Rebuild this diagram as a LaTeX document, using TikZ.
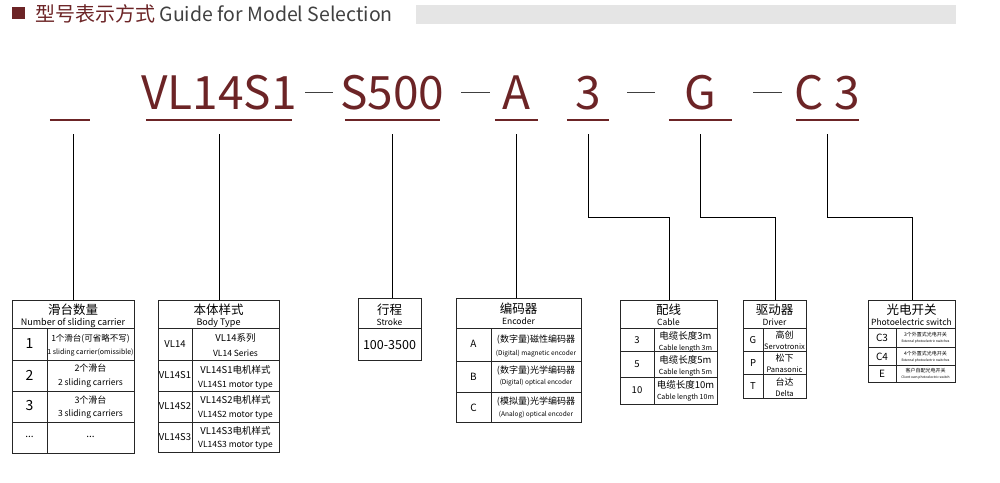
\documentclass[tikz,border=0pt]{standalone}
\usepackage{fontspec}
\setmainfont{Noto Sans CJK SC}
\usepackage{xcolor}
\usepackage{tikz}
\usetikzlibrary{positioning}

\definecolor{codered}{RGB}{108,36,38}
\definecolor{titlegray}{RGB}{64,64,64}
\definecolor{barfill}{RGB}{229,229,229}
\newcommand{\fsz}[2]{\fontsize{#1}{#2}\selectfont}

\begin{document}
\begin{tikzpicture}[
  x=1pt, y=-1pt,
  code/.style={font=\fsz{46}{46}, text=codered, inner sep=0pt, text depth=0pt},
  ubase/.style={inner sep=0pt, minimum height=0pt, minimum width=#1},
  uline/.style={draw=codered, line width=1.3pt},
  dashln/.style={draw=black!75, line width=0.9pt},
  link/.style={draw=black, line width=0.8pt},
  tabbox/.style={draw=black!85, line width=0.8pt, anchor=north west, inner sep=0pt},
  rowline/.style={draw=black!85, line width=0.7pt},
  head/.style={align=center, inner sep=0pt, font=\fsz{12.5}{11}},
  key/.style={inner sep=0pt, font=\fsz{10}{10}},
  cell/.style={align=center, inner sep=0pt, font=\fsz{9}{#1}},
  cell/.default=13,
]
\useasboundingbox (0,0) rectangle (1000,482);

% title bar
\fill[codered] (12,7) rectangle (25,19);
\node[anchor=base west, inner sep=0pt, font=\fsz{20}{20}] (title) at (35,21)
  {\textcolor{codered}{型号表示方式} \textcolor{titlegray}{\fsz{19.5}{19.5}Guide for Model Selection}};
\fill[barfill] (416,5) rectangle (956,24);

% model code
\node[ubase=40] (u1) at (70,120) {};
\node[ubase=146] (u2) at (219,120) {};
\node[ubase=95] (u3) at (392.5,120) {};
\node[ubase=43] (u4) at (516.5,120) {};
\node[ubase=42] (u5) at (588,120) {};
\node[ubase=63] (u6) at (700.5,120) {};
\node[ubase=63] (u7) at (827.5,120) {};
\foreach \u in {u1,u2,u3,u4,u5,u6,u7}
  \draw[uline] (\u.west) -- (\u.east);
\node[code, above=10pt of u2] (body) {VL14S1};
\node[code, above=10pt of u3] (stroke) {S500};
\node[code, above=10pt of u4] (enc) {A};
\node[code, above=10pt of u5] (cable) {3};
\node[code, above=10pt of u6] (drv) {G};
\node[code, above=10pt of u7] (pes) {C 3};
\foreach \a/\b in {305/333, 461/490, 627/655, 753/782}
  \draw[dashln] (\a,92) -- (\b,92);

% tables
\node[tabbox, minimum width=122pt, minimum height=153pt] (tab1) at (12,300) {};
\node[tabbox, minimum width=121pt, minimum height=152pt] (tab2) at (158,300) {};
\node[tabbox, minimum width=63pt, minimum height=62pt] (tab3) at (358,298) {};
\node[tabbox, minimum width=125pt, minimum height=124pt] (tab4) at (456,298) {};
\node[tabbox, minimum width=97pt, minimum height=104pt] (tab5) at (620,300) {};
\node[tabbox, minimum width=63pt, minimum height=98pt] (tab6) at (743,300) {};
\node[tabbox, minimum width=87pt, minimum height=82pt] (tab7) at (868,300) {};

\foreach \y in {328,360,391,422} {
  \draw[rowline] (tab1.west |- 0,\y) -- (tab1.east |- 0,\y);
  \draw[rowline] (tab2.west |- 0,\y) -- (tab2.east |- 0,\y);
}
\draw[rowline] (tab3.west |- 0,328) -- (tab3.east |- 0,328);
\foreach \y in {328,361,392}
  \draw[rowline] (tab4.west |- 0,\y) -- (tab4.east |- 0,\y);
\foreach \y in {328,351,377}
  \draw[rowline] (tab5.west |- 0,\y) -- (tab5.east |- 0,\y);
\foreach \y in {328,351,374}
  \draw[rowline] (tab6.west |- 0,\y) -- (tab6.east |- 0,\y);
\foreach \y in {328,347,365}
  \draw[rowline] (tab7.west |- 0,\y) -- (tab7.east |- 0,\y);
\draw[rowline] (47,328) -- (47,0 |- tab1.south);
\draw[rowline] (192,328) -- (192,0 |- tab2.south);
\draw[rowline] (491,328) -- (491,0 |- tab4.south);
\draw[rowline] (654,328) -- (654,0 |- tab5.south);
\draw[rowline] (763,328) -- (763,0 |- tab6.south);
\draw[rowline] (896,328) -- (896,0 |- tab7.south);

% table 1: sliding carriers
\node[head] (h1) at (73,316) {滑台数量\\{\fsz{9}{9}Number of sliding carrier}};
\node[key, font=\fsz{14}{14}] (k11) at (29.5,344) {1};
\node[key, font=\fsz{14}{14}] (k12) at (29.5,375) {2};
\node[key, font=\fsz{14}{14}] (k13) at (29.5,406) {3};
\node[key] (k14) at (29.5,437) {...};
\node[cell, font=\fsz{8.5}{13}] (c11) at (90.5,345) {1个滑台(可省略不写)\\{\fsz{7}{7}1 sliding carrier(omissible)}};
\node[cell=14] (c12) at (90.5,376) {2个滑台\\{\fsz{8.5}{8.5}2 sliding carriers}};
\node[cell=13.5] (c13) at (90.5,407.5) {3个滑台\\{\fsz{8.5}{8.5}3 sliding carriers}};
\node[key] (c14) at (90.5,437) {...};

% table 2: body type
\node[head] (h2) at (218.5,316) {本体样式\\{\fsz{9}{9}Body Type}};
\node[key, font=\fsz{9.5}{9.5}] (k21) at (175,344) {VL14};
\node[key, font=\fsz{9.5}{9.5}] (k22) at (175,375.5) {VL14S1};
\node[key, font=\fsz{9.5}{9.5}] (k23) at (175,406.5) {VL14S2};
\node[key, font=\fsz{9.5}{9.5}] (k24) at (175,437) {VL14S3};
\node[cell=14.5, font=\fsz{9.5}{14.5}] (c21) at (235.5,345) {VL14系列\\{\fsz{8.5}{8.5}VL14 Series}};
\node[cell, font=\fsz{9.5}{14}] (c22) at (235.5,377) {VL14S1电机样式\\{\fsz{8.5}{8.5}VL14S1 motor type}};
\node[cell, font=\fsz{9.5}{14.5}] (c23) at (235.5,407.5) {VL14S2电机样式\\{\fsz{8.5}{8.5}VL14S2 motor type}};
\node[cell, font=\fsz{9.5}{12.5}] (c24) at (235.5,438) {VL14S3电机样式\\{\fsz{8.5}{8.5}VL14S3 motor type}};

% table 3: stroke
\node[head] (h3) at (389.5,315) {行程\\{\fsz{8.5}{8.5}Stroke}};
\node[key, font=\fsz{12.5}{12.5}] (k31) at (389.5,345) {100-3500};

% table 4: encoder
\node[head] (h4) at (518.5,314) {编码器\\{\fsz{8.5}{8.5}Encoder}};
\node[key] (k41) at (473.5,344) {A};
\node[key] (k42) at (473.5,377) {B};
\node[key] (k43) at (473.5,408) {C};
\node[cell, font=\fsz{9}{13}] (c41) at (536,345.5) {(数字量)磁性编码器\\{\fsz{6.5}{6.5}(Digital) magnetic encoder}};
\node[cell, font=\fsz{9}{10.5}] (c42) at (536,376) {(数字量)光学编码器\\{\fsz{6.5}{6.5}(Digital) optical encoder}};
\node[cell, font=\fsz{9}{11.5}] (c43) at (536,407.5) {(模拟量)光学编码器\\{\fsz{6.5}{6.5}(Analog) optical encoder}};

% table 5: cable
\node[head] (h5) at (668.5,315) {配线\\{\fsz{8.5}{8.5}Cable}};
\node[key, font=\fsz{9.5}{9.5}] (k51) at (637,340) {3};
\node[key, font=\fsz{9.5}{9.5}] (k52) at (637,364) {5};
\node[key, font=\fsz{9.5}{9.5}] (k53) at (637,390.5) {10};
\node[cell, font=\fsz{9.5}{10.5}] (c51) at (685.5,342) {电缆长度3m\\{\fsz{7}{7}Cable length 3m}};
\node[cell, font=\fsz{9.5}{10.5}] (c52) at (685.5,366) {电缆长度5m\\{\fsz{7}{7}Cable length 5m}};
\node[cell, font=\fsz{9.5}{10.5}] (c53) at (685.5,391) {电缆长度10m\\{\fsz{7}{7}Cable length 10m}};

% table 6: driver
\node[head] (h6) at (774.5,315) {驱动器\\{\fsz{8.5}{8.5}Driver}};
\node[key, font=\fsz{9.5}{9.5}] (k61) at (753,340) {G};
\node[key, font=\fsz{9.5}{9.5}] (k62) at (753,363) {P};
\node[key, font=\fsz{9.5}{9.5}] (k63) at (753,386) {T};
\node[cell, font=\fsz{9}{11}] (c61) at (784.5,340) {高创\\{\fsz{7.5}{7.5}Servotronix}};
\node[cell, font=\fsz{9}{11}] (c62) at (784.5,363.5) {松下\\{\fsz{7.5}{7.5}Panasonic}};
\node[cell, font=\fsz{9}{11}] (c63) at (784.5,387) {台达\\{\fsz{7.5}{7.5}Delta}};

% table 7: photoelectric switch
\node[head] (h7) at (911.5,315) {光电开关\\{\fsz{8.5}{8.5}Photoelectric switch}};
\node[key] (k71) at (882,338) {C3};
\node[key] (k72) at (882,356.5) {C4};
\node[key] (k73) at (882,373.5) {E};
\node[cell, font=\fsz{5}{6}] (c71) at (925.5,338) {3个外置式光电开关\\{\fsz{3.3}{3.3}External photoelectric switches}};
\node[cell, font=\fsz{5}{6}] (c72) at (925.5,356.5) {4个外置式光电开关\\{\fsz{3.3}{3.3}External photoelectric switches}};
\node[cell, font=\fsz{5}{6}] (c73) at (925.5,373.5) {客户自配光电开关\\{\fsz{3.3}{3.3}Client own photoelectric switch}};

% connectors
\draw[link] (tab1.north |- u1.south) ++(0,14) -- (tab1.north);
\draw[link] (tab2.north |- u2.south) ++(0,14) -- (tab2.north);
\draw[link] (u3.south) ++(0,14) -- (u3.south |- tab3.north);
\draw[link] (u4.south) ++(0,14) -- (u4.south |- tab4.north);
\draw[link] (u5.south) ++(0,14) -- ++(0,83) -| (tab5.north);
\draw[link] (u6.south) ++(0,14) -- ++(0,83) -| (tab6.north);
\draw[link] (u7.south) ++(0,14) -- ++(0,83) -| (tab7.north);

\end{tikzpicture}
\end{document}
